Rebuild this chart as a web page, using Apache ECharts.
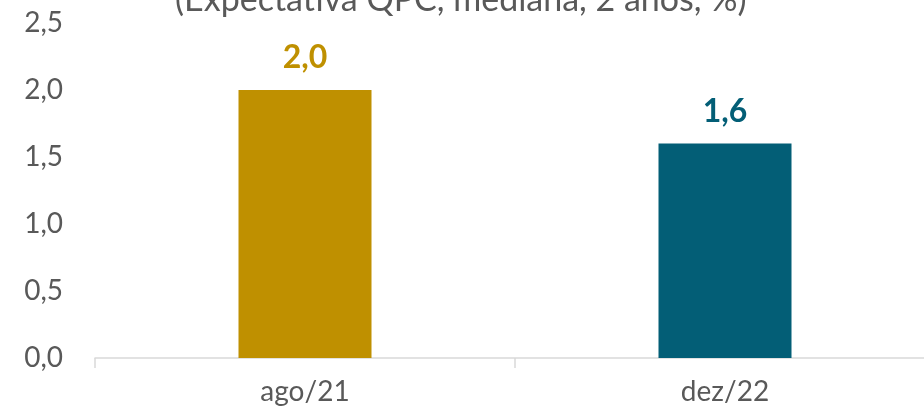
<!DOCTYPE html>
<html>
<head>
<meta charset="utf-8">
<script src="https://cdn.jsdelivr.net/npm/echarts@6/dist/echarts.min.js"></script>
<style>
html,body{margin:0;padding:0;background:#fff;overflow:hidden;width:924px;height:416px;}
#chart{width:940px;height:416px;}
</style>
</head>
<body>
<div id="chart"></div>
<script>
const categories = ['ago/21', 'dez/22'];
const values = [2.0, 1.6];
const barColors = ['#BF9000', '#035E76'];
const titleText = '(Expectativa QPC, mediana, 2 anos, %)';

const chart = echarts.init(document.getElementById('chart'));
const fmt = v => v.toFixed(1).replace('.', ',');
chart.setOption({
  animation: false,
  title: {
    text: titleText,
    left: 170,
    top: -22,
    textStyle: { fontFamily: 'Lato', fontSize: 34, fontWeight: 'normal', color: '#595959' }
  },
  grid: { left: 95, top: 23, width: 840, bottom: 58, containLabel: false },
  xAxis: {
    type: 'category',
    data: categories,
    axisLine: { lineStyle: { color: '#D9D9D9', width: 1.5 } },
    axisTick: { show: true, alignWithLabel: false, length: 10, lineStyle: { color: '#D9D9D9', width: 1.5 } },
    axisLabel: { fontFamily: 'Lato', fontSize: 28, color: '#595959', margin: 20 }
  },
  yAxis: {
    type: 'value',
    min: 0, max: 2.5, interval: 0.5,
    splitLine: { show: false },
    axisLine: { show: false },
    axisTick: { show: false },
    axisLabel: { fontFamily: 'Lato', fontSize: 28, color: '#595959', margin: 32, formatter: fmt }
  },
  series: [{
    type: 'bar',
    barWidth: 133,
    data: values.map((v, i) => ({
      value: v,
      itemStyle: { color: barColors[i] },
      label: { color: barColors[i] }
    })),
    label: {
      show: true, position: 'top', distance: 16,
      fontFamily: 'Lato', fontSize: 32, fontWeight: 'bold',
      formatter: p => fmt(p.value)
    }
  }]
});
</script>
</body>
</html>
